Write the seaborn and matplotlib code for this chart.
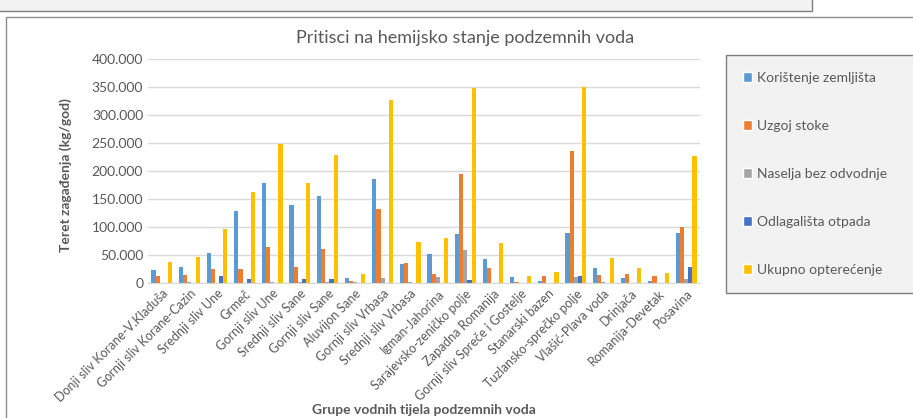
import pandas as pd
import matplotlib
matplotlib.use("Agg")
import matplotlib.pyplot as plt
import matplotlib.patches as mpatches
import matplotlib.ticker as mticker
import seaborn as sns

# Groups of groundwater bodies (x axis)
grupe = [
    "Donji sliv Korane-V.Kladuša", "Gornji sliv Korane-Cazin", "Srednji sliv Une", "Grmeč",
    "Gornji sliv Une", "Srednji sliv Sane", "Gornji sliv Sane", "Aluvijon Sane",
    "Gornji sliv Vrbasa", "Srednji sliv Vrbasa", "Igman-Jahorina", "Sarajevsko-zeničko polje",
    "Zapadna Romanija", "Gornji sliv Spreče i Gostelje", "Stanarski bazen",
    "Tuzlansko-sprečko polje", "Vlašić-Plava voda", "Drinjača", "Romanija-Devetak", "Posavina",
]

# Pollution load per source (kg/god)
koristenje_zemljista = [23700, 29600, 53400, 128800, 179000, 139400, 155500, 8900, 185700, 34400,
                        51600, 87000, 42700, 10700, 4700, 89000, 26700, 10000, 4700, 89000]
uzgoj_stoke = [13000, 14200, 26000, 25500, 64600, 29600, 60500, 4700, 131800, 36700,
               16600, 194000, 26700, 2000, 13600, 236000, 14800, 16000, 13000, 100800]
naselja = [500, 2300, 1000, 1000, 3000, 3000, 3000, 1500, 8900, 1500,
           11800, 59000, 1000, 300, 1000, 11800, 2000, 1000, 300, 7000]
odlagalista = [0, 0, 13000, 7000, 0, 7000, 7600, 0, 500, 0,
               0, 6000, 0, 0, 0, 13000, 0, 0, 0, 28500]
ukupno = [38500, 46300, 96000, 163000, 248000, 179000, 228500, 16000, 326000, 73000,
          80000, 347000, 72000, 13000, 19600, 350000, 44500, 27800, 18300, 226700]

izvori = ["Korištenje zemljišta", "Uzgoj stoke", "Naselja bez odvodnje",
          "Odlagališta otpada", "Ukupno opterećenje"]
boje = ["#5B9BD5", "#ED7D31", "#A5A5A5", "#4472C4", "#FFC000"]

df = pd.DataFrame({
    "grupa": grupe,
    izvori[0]: koristenje_zemljista,
    izvori[1]: uzgoj_stoke,
    izvori[2]: naselja,
    izvori[3]: odlagalista,
    izvori[4]: ukupno,
}).melt(id_vars="grupa", var_name="izvor", value_name="teret")

sns.set_style("white")
plt.rcParams["font.family"] = ["Lato", "DejaVu Sans"]
siva = "#595959"

W, H = 913, 418
fig = plt.figure(figsize=(W / 100, H / 100), dpi=100)

# frames of the chart area and the chart above it
fig.patches.append(mpatches.Rectangle((-0.01, 1 - 11 / H), 812 / W + 0.01, 0.05, transform=fig.transFigure,
                                      facecolor="#f2f2f2", edgecolor="#7f7f7f", lw=1))
fig.patches.append(mpatches.Rectangle((6 / W, -0.05), 1.1, (H - 17) / H + 0.05, transform=fig.transFigure,
                                      fill=False, edgecolor="#8c8c8c", lw=1))

ax = fig.add_axes([148 / W, 1 - 283.3 / H, (700 - 148) / W, (283.3 - 58.7) / H])
sns.barplot(data=df, x="grupa", y="teret", hue="izvor", hue_order=izvori, palette=boje,
            width=0.75, ax=ax, legend=False, errorbar=None, linewidth=0, saturation=1)

ax.set_ylim(0, 400000)
ax.yaxis.set_major_locator(mticker.MultipleLocator(50000))
ax.yaxis.set_major_formatter(mticker.FuncFormatter(lambda v, p: f"{int(v):,}".replace(",", ".")))
ax.grid(axis="y", color="#d9d9d9", lw=1)
ax.set_axisbelow(True)
for s in ["top", "right", "left"]:
    ax.spines[s].set_visible(False)
ax.spines["bottom"].set_color("#d9d9d9")
ax.tick_params(length=0, colors=siva, labelsize=10)
ax.tick_params(axis="x", labelsize=9, pad=3)
plt.setp(ax.get_xticklabels(), rotation=45, ha="right", rotation_mode="anchor")

ax.set_ylabel("Teret zagađenja (kg/god)", fontsize=10, fontweight="bold", color=siva)
ax.yaxis.set_label_coords(-0.138, 0.48)
ax.set_xlabel("Grupe vodnih tijela podzemnih voda", fontsize=10, fontweight="bold", color=siva)
ax.xaxis.set_label_coords(0.5, -0.537)

fig.text(465 / W, 1 - 38 / H, "Pritisci na hemijsko stanje podzemnih voda",
         ha="center", va="center", fontsize=13, color=siva)

handles = [mpatches.Patch(facecolor=c, label=l) for c, l in zip(boje, izvori)]
leg = fig.legend(handles=handles, loc="upper left", bbox_to_anchor=(726 / W, 1 - 55 / H - 0.1, 200 / W, 0.1),
                 mode="expand", borderaxespad=0, frameon=True, fancybox=False, fontsize=10,
                 labelspacing=2.6, handlelength=0.7, handleheight=0.7, handletextpad=0.3,
                 borderpad=1.2, labelcolor=siva)
leg.get_frame().set_facecolor("#f2f2f2")
leg.get_frame().set_edgecolor("#7f7f7f")
leg.get_frame().set_linewidth(1)
leg.get_frame().set_alpha(1)

fig.savefig("out.png", dpi=100)
